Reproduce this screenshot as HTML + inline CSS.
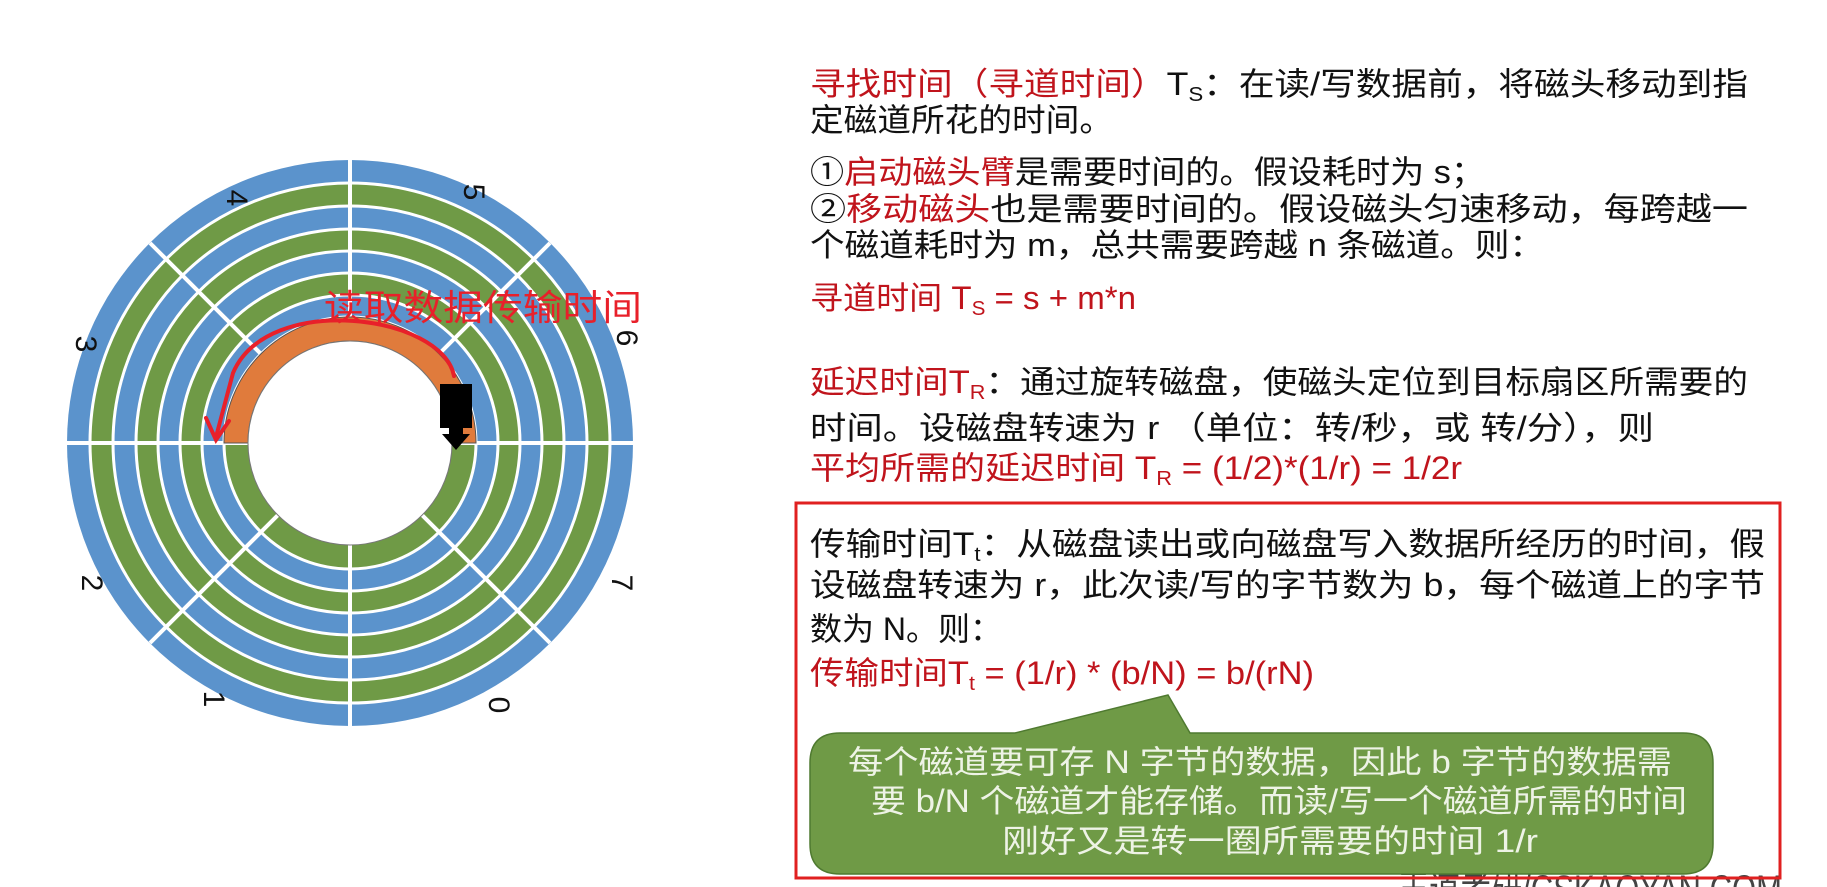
<!DOCTYPE html>
<html><head><meta charset="utf-8"><style>
html,body{margin:0;padding:0;background:#fff;}
svg{display:block;}
text{font-family:"Liberation Sans","Noto Sans CJK SC",sans-serif;}
</style></head><body>
<svg width="1827" height="887" viewBox="0 0 1827 887" xmlns="http://www.w3.org/2000/svg">
<rect width="1827" height="887" fill="#fff"/>
<g>
<circle cx="350" cy="443" r="283" fill="#5b93cc"/>
<circle cx="350" cy="443" r="260" fill="#6f9a46" stroke="#fff" stroke-width="3"/>
<circle cx="350" cy="443" r="237" fill="#5b93cc" stroke="#fff" stroke-width="3"/>
<circle cx="350" cy="443" r="214" fill="#6f9a46" stroke="#fff" stroke-width="3"/>
<circle cx="350" cy="443" r="192" fill="#5b93cc" stroke="#fff" stroke-width="3"/>
<circle cx="350" cy="443" r="170" fill="#6f9a46" stroke="#fff" stroke-width="3"/>
<circle cx="350" cy="443" r="148" fill="#5b93cc" stroke="#fff" stroke-width="3"/>
<circle cx="350" cy="443" r="126" fill="#6f9a46" stroke="#fff" stroke-width="3"/>
<g stroke="#fff" stroke-width="4">
<line x1="350" y1="160" x2="350" y2="726"/>
<line x1="67" y1="443" x2="633" y2="443"/>
<line x1="150" y1="243" x2="550" y2="643"/>
<line x1="550" y1="243" x2="150" y2="643"/>
</g>
<path d="M224,443 A126,126 0 0 1 476,443 L452,443 A102,102 0 0 0 248,443 Z" fill="#e07b3c" stroke="#555" stroke-width="1"/>
<circle cx="350" cy="443" r="102" fill="#fff" stroke="#777" stroke-width="1"/>
<rect x="440" y="384" width="32" height="44" fill="#000"/>
<path d="M449,428 L463,428 L463,434 L470,434 L456,450 L442,434 L449,434 Z" fill="#000"/>
<path d="M454,376 C443,315 268,291 233,373 L216,437" fill="none" stroke="#e8202a" stroke-width="4" stroke-linecap="round"/>
<path d="M206,418 L216,440 L229,421" fill="none" stroke="#e8202a" stroke-width="4" stroke-linecap="round"/>
<text x="324" y="320" font-size="36" fill="#e8202a" textLength="318" lengthAdjust="spacingAndGlyphs">读取数据传输时间</text>
<g font-size="30" fill="#111" text-anchor="middle">
<text transform="translate(464,192) rotate(90)">5</text>
<text transform="translate(617,338) rotate(90)">6</text>
<text transform="translate(612,583) rotate(90)">7</text>
<text transform="translate(489,705) rotate(90)">0</text>
<text transform="translate(204,699) rotate(90)">1</text>
<text transform="translate(82,583) rotate(90)">2</text>
<text transform="translate(76,344) rotate(90)">3</text>
<text transform="translate(227,198) rotate(90)">4</text>
</g>
</g>
<g font-size="32" fill="#111">
<text x="810" y="95" textLength="938" lengthAdjust="spacingAndGlyphs"><tspan fill="#c0141c">寻找时间（寻道时间）</tspan>T<tspan font-size="20" dy="6">S</tspan><tspan dy="-6">：在读/写数据前，将磁头移动到指</tspan></text>
<text x="810" y="131" textLength="303" lengthAdjust="spacingAndGlyphs">定磁道所花的时间。</text>
<text x="810" y="183" textLength="675" lengthAdjust="spacingAndGlyphs">①<tspan fill="#c0141c">启动磁头臂</tspan>是需要时间的。假设耗时为 s；</text>
<text x="810" y="220" textLength="938" lengthAdjust="spacingAndGlyphs">②<tspan fill="#c0141c">移动磁头</tspan>也是需要时间的。假设磁头匀速移动，每跨越一</text>
<text x="810" y="256" textLength="734" lengthAdjust="spacingAndGlyphs">个磁道耗时为 m，总共需要跨越 n 条磁道。则：</text>
<text x="810" y="309" fill="#c0141c" textLength="326" lengthAdjust="spacingAndGlyphs">寻道时间 T<tspan font-size="20" dy="6">S</tspan><tspan dy="-6"> = s + m*n</tspan></text>
<text x="810" y="393" textLength="938" lengthAdjust="spacingAndGlyphs"><tspan fill="#c0141c">延迟时间T</tspan><tspan fill="#c0141c" font-size="20" dy="6">R</tspan><tspan dy="-6">：通过旋转磁盘，使磁头定位到目标扇区所需要的</tspan></text>
<text x="810" y="439" textLength="844" lengthAdjust="spacingAndGlyphs">时间。设磁盘转速为 r （单位：转/秒，或 转/分），则</text>
<text x="810" y="479" fill="#c0141c" textLength="652" lengthAdjust="spacingAndGlyphs">平均所需的延迟时间 T<tspan font-size="20" dy="6">R</tspan><tspan dy="-6"> = (1/2)*(1/r) = 1/2r</tspan></text>
<text x="810" y="555" textLength="955" lengthAdjust="spacingAndGlyphs">传输时间T<tspan font-size="20" dy="6">t</tspan><tspan dy="-6">：从磁盘读出或向磁盘写入数据所经历的时间，假</tspan></text>
<text x="810" y="596" textLength="955" lengthAdjust="spacingAndGlyphs">设磁盘转速为 r，此次读/写的字节数为 b，每个磁道上的字节</text>
<text x="810" y="640">数为 N。则：</text>
<text x="810" y="684" fill="#c0141c" textLength="504" lengthAdjust="spacingAndGlyphs">传输时间T<tspan font-size="20" dy="6">t</tspan><tspan dy="-6"> = (1/r) * (b/N) = b/(rN)</tspan></text>
</g>
<text x="1398" y="903" font-size="40" fill="#444" textLength="384" lengthAdjust="spacingAndGlyphs">王道考研/CSKAOYAN.COM</text>
<rect x="796" y="503" width="984" height="375" fill="none" stroke="#e02020" stroke-width="3"/>
<path d="M840,733 L1015,733 L1168,695 L1190,733 L1683,733 Q1713,733 1713,763 L1713,844 Q1713,874 1683,874 L840,874 Q810,874 810,844 L810,763 Q810,733 840,733 Z" fill="#6f9a46" stroke="#4f7a30" stroke-width="1.5"/>
<g font-size="32" fill="#eef3e6">
<text x="848" y="773" textLength="824" lengthAdjust="spacingAndGlyphs">每个磁道要可存 N 字节的数据，因此 b 字节的数据需</text>
<text x="871" y="812" textLength="816" lengthAdjust="spacingAndGlyphs">要 b/N 个磁道才能存储。而读/写一个磁道所需的时间</text>
<text x="1002" y="852" textLength="536" lengthAdjust="spacingAndGlyphs">刚好又是转一圈所需要的时间 1/r</text>
</g>
</svg>
</body></html>
